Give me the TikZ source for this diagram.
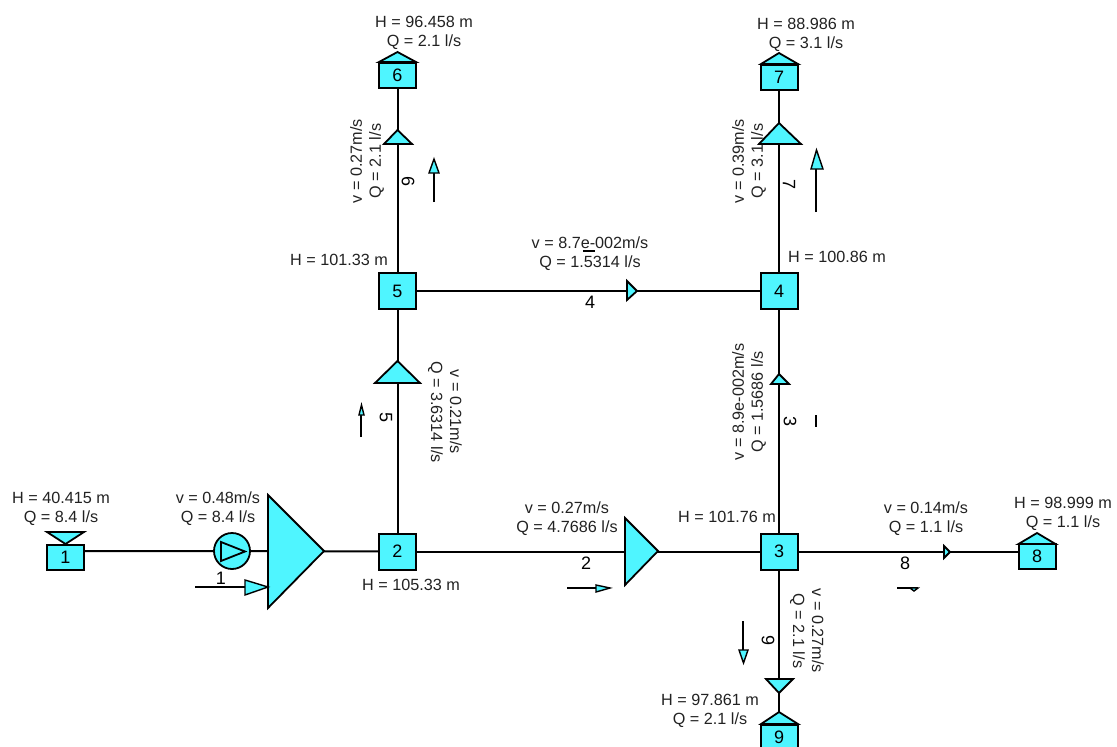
\documentclass[tikz,border=0pt]{standalone}
\usepackage{fontspec}
\setmainfont{Liberation Sans}
\definecolor{pipecyan}{HTML}{4FF5FF}
\definecolor{labgray}{HTML}{222222}
\tikzset{
  lab/.style={font=\fontsize{16.2}{19}\selectfont,text=labgray,align=center,inner sep=0pt},
  num/.style={font=\fontsize{18}{19}\selectfont,text=black,inner sep=0pt},
  junction/.style={draw,fill=pipecyan,line width=2pt,minimum width=37pt,minimum height=36pt,inner sep=0pt,num},
  tank/.style={draw,fill=pipecyan,line width=2pt,minimum width=37pt,minimum height=25pt,inner sep=0pt,num},
  pipe/.style={line width=2pt},
  tri/.style={draw,fill=pipecyan,line width=1.8pt,line join=miter}
}
\begin{document}
\begin{tikzpicture}[x=1pt,y=-1pt]
    \useasboundingbox (0,0) rectangle (1117,747);
    \clip (0,0) rectangle (1117,747);
    \node[tank] (n1) at (65.5,557) {1};
    \node[junction] (n2) at (397.5,551.5) {2};
    \node[junction] (n3) at (779,551.5) {3};
    \node[junction] (n4) at (779,291) {4};
    \node[junction] (n5) at (397.5,291) {5};
    \node[tank] (n6) at (397.5,75) {6};
    \node[tank] (n7) at (779,77) {7};
    \node[tank] (n8) at (1037,556.5) {8};
    \node[tank] (n9) at (779,737) {9};
    \node[draw,circle,fill=pipecyan,line width=1.8pt,minimum size=36pt,inner sep=0pt] (pump) at (232,551) {};
    % pipes
    \draw[pipe] (n1.east |- pump) -- (pump) (pump) -- (n2);
    \draw[pipe] (n2) -- (n3);
    \draw[pipe] (n3) -- (n3 -| n8.west);
    \draw[pipe] (n2) -- (n5);
    \draw[pipe] (n5) -- (n6);
    \draw[pipe] (n5) -- (n4);
    \draw[pipe] (n3) -- (n4);
    \draw[pipe] (n4) -- (n7);
    \draw[pipe] (n3) -- (n9);
    % tank roofs
    \foreach \ax/\ay/\bx/\by/\cx/\cy in {47/532/84/532/65.5/544, 379/62/416/62/397.5/52, 761/64/798/64/779/53, 1018.5/544/1055.5/544/1037/533, 761/724/798/724/779/712}
      \draw[tri] (\ax,\ay) -- (\bx,\by) -- (\cx,\cy) -- cycle;
    % flow triangles on the pipes
    \foreach \ax/\ay/\bx/\by/\cx/\cy in {268/495/268/608/324/551, 625/518/625/585/658/551, 627/281/627/300/637/291, 944/546/944/558/950/552, 384/144/412/144/397.5/130, 759/144/801/144/779/123, 375/383/420/383/397.5/361, 771/384/789/384/779/374, 766/679/793/679/779/693}
      \draw[tri] (\ax,\ay) -- (\bx,\by) -- (\cx,\cy) -- cycle;
    \draw[line width=1.8pt,line join=miter] (221,542) -- (221,561) -- (245,551.5) -- cycle;
    % flow arrows beside the pipes
    \foreach \n/\tx/\ty/\hx/\hy in {a1/195/587/245/587, a2/567/588/596/588, a3/816/415/816/427, a4/583/251/595/251, a5/361/437/361/415, a6/434/202/434/173, a7/816/212/816/169, a8/897/588/918/588, a9/743/621/743/650} {
      \coordinate (\n t) at (\tx,\ty);
      \coordinate (\n h) at (\hx,\hy);
      \draw[line width=1.6pt] (\n t) -- (\n h);
    }
    \foreach \ax/\ay/\bx/\by/\cx/\cy in {245/580/245/595/268/587, 596/585/596/592/610/588, 429/173/439/173/434/159, 811/169/823/169/816.5/150, 359/415/364/415/361.5/405, 739/650/748/650/743.5/663, 910/588/918/588/914/591}
      \draw[tri,line width=1.4pt] (\ax,\ay) -- (\bx,\by) -- (\cx,\cy) -- cycle;
    % node labels
    \node[lab] (h1) at (61,509) {H = 40.415 m\\Q = 8.4 l/s};
    \node[lab] (h2) at (411,585) {H = 105.33 m};
    \node[lab] (h3) at (727,517) {H = 101.76 m};
    \node[lab] (h4) at (837,257) {H = 100.86 m};
    \node[lab] (h5) at (339,260) {H = 101.33 m};
    \node[lab] (h6) at (424,33) {H = 96.458 m\\Q = 2.1 l/s};
    \node[lab] (h7) at (806,35) {H = 88.986 m\\Q = 3.1 l/s};
    \node[lab] (h8) at (1063,514) {H = 98.999 m\\Q = 1.1 l/s};
    \node[lab] (h9) at (710,711) {H = 97.861 m\\Q = 2.1 l/s};
    % pipe labels
    \node[lab] (q1) at (218,509) {v = 0.48m/s\\Q = 8.4 l/s};
    \node[lab] (q2) at (567,519) {v = 0.27m/s\\Q = 4.7686 l/s};
    \node[lab] (q8) at (926,519) {v = 0.14m/s\\Q = 1.1 l/s};
    \node[lab] (q4) at (590,254) {v = 8.7e-002m/s\\Q = 1.5314 l/s};
    \node[lab,rotate=90] (q6) at (367,161) {v = 0.27m/s\\Q = 2.1 l/s};
    \node[lab,rotate=90] (q7) at (749,161) {v = 0.39m/s\\Q = 3.1 l/s};
    \node[lab,rotate=90] (q3) at (749,402) {v = 8.9e-002m/s\\Q = 1.5686 l/s};
    \node[lab,rotate=-90] (q5) at (445,412) {v = 0.21m/s\\Q = 3.6314 l/s};
    \node[lab,rotate=-90] (q9) at (807,631) {v = 0.27m/s\\Q = 2.1 l/s};
    % pipe numbers
    \node[num] (p1) at (221,578) {1};
    \node[num] (p2) at (586,563) {2};
    \node[num] (p4) at (590,302) {4};
    \node[num] (p8) at (905,563) {8};
    \node[num,rotate=-90] (p3) at (790,422) {3};
    \node[num,rotate=-90] (p5) at (386,418) {5};
    \node[num,rotate=-90] (p6) at (408,182) {6};
    \node[num,rotate=-90] (p7) at (789,185) {7};
    \node[num,rotate=-90] (p9) at (768,640) {9};
\end{tikzpicture}
\end{document}
